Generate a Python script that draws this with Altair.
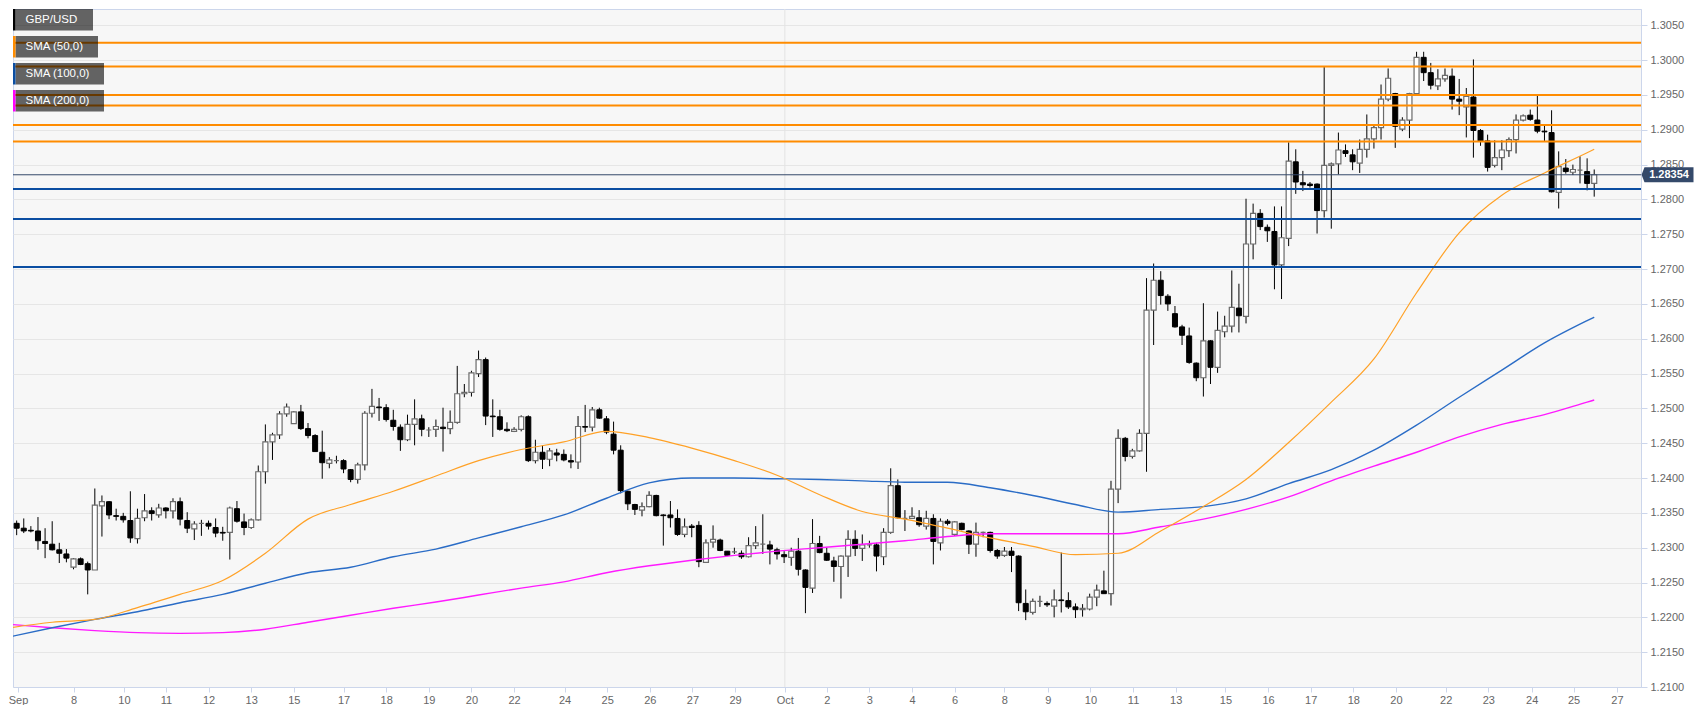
import altair as alt
import pandas as pd

# ---------------- data ----------------
opens = [
    1.2338, 1.2335, 1.2328, 1.2325, 1.2324, 1.2309, 1.2305, 1.2297, 1.2291, 1.2272,
    1.2284, 1.2277, 1.2268, 1.2360, 1.2366, 1.2346, 1.2345, 1.2339, 1.2313, 1.2343,
    1.2353, 1.2347, 1.2357, 1.2353, 1.2366, 1.2339, 1.2327, 1.2335, 1.2335, 1.2329,
    1.2322, 1.2322, 1.2356, 1.2337, 1.2329, 1.2340, 1.2409, 1.2452, 1.2462, 1.2492,
    1.2478, 1.2495, 1.2471, 1.2461, 1.2437, 1.2421, 1.2425, 1.2425, 1.2412, 1.2398,
    1.2419, 1.2493, 1.2502, 1.2501, 1.2483, 1.2473, 1.2455, 1.2477, 1.2485, 1.2469,
    1.2470, 1.2473, 1.2471, 1.2480, 1.2521, 1.2523, 1.2550, 1.2570, 1.2489, 1.2488,
    1.2470, 1.2467, 1.2470, 1.2488, 1.2425, 1.2437, 1.2427, 1.2436, 1.2434, 1.2425,
    1.2423, 1.2474, 1.2473, 1.2498, 1.2485, 1.2463, 1.2440, 1.2381, 1.2362, 1.2354,
    1.2359, 1.2375, 1.2347, 1.2347, 1.2342, 1.2319, 1.2331, 1.2332, 1.2279, 1.2308,
    1.2311, 1.2295, 1.2294, 1.2292, 1.2287, 1.2303, 1.2305, 1.2304, 1.2297, 1.2290,
    1.2286, 1.2295, 1.2268, 1.2242, 1.2306, 1.2292, 1.2281, 1.2273, 1.2288, 1.2312,
    1.2299, 1.2304, 1.2304, 1.2287, 1.2322, 1.2389, 1.2342, 1.2342, 1.2343, 1.2331,
    1.2342, 1.2307, 1.2338, 1.2319, 1.2335, 1.2324, 1.2305, 1.2322, 1.2322, 1.2296,
    1.2289, 1.2295, 1.2288, 1.2220, 1.2207, 1.2223, 1.2220, 1.2216, 1.2225, 1.2224,
    1.2215, 1.2211, 1.2212, 1.2229, 1.2238, 1.2234, 1.2384, 1.2457, 1.2431, 1.2439,
    1.2464, 1.2641, 1.2684, 1.2661, 1.2636, 1.2617, 1.2604, 1.2565, 1.2544, 1.2597,
    1.2559, 1.2610, 1.2618, 1.2644, 1.2632, 1.2736, 1.2780, 1.2760, 1.2754, 1.2706,
    1.2744, 1.2854, 1.2824, 1.2822, 1.2822, 1.2784, 1.2849, 1.2851, 1.2870, 1.2864,
    1.2852, 1.2872, 1.2887, 1.2903, 1.2944, 1.2952, 1.2901, 1.2914, 1.2952, 1.3004,
    1.2982, 1.2963, 1.2973, 1.2977, 1.2944, 1.2933, 1.2947, 1.2899, 1.2884, 1.2849,
    1.2860, 1.2870, 1.2886, 1.2914, 1.2921, 1.2914, 1.2898, 1.2896, 1.2810, 1.2845,
    1.2839, 1.2842, 1.2840, 1.2823,
]
highs = [
    1.2350, 1.2339, 1.2342, 1.2331, 1.2344, 1.2328, 1.2338, 1.2307, 1.2298, 1.2285,
    1.2286, 1.2280, 1.2385, 1.2375, 1.2367, 1.2356, 1.2350, 1.2381, 1.2356, 1.2377,
    1.2358, 1.2363, 1.2358, 1.2371, 1.2372, 1.2351, 1.2338, 1.2340, 1.2339, 1.2342,
    1.2330, 1.2359, 1.2367, 1.2349, 1.2342, 1.2418, 1.2477, 1.2465, 1.2496, 1.2507,
    1.2496, 1.2505, 1.2479, 1.2463, 1.2468, 1.2430, 1.2432, 1.2427, 1.2413, 1.2422,
    1.2496, 1.2528, 1.2515, 1.2506, 1.2498, 1.2477, 1.2491, 1.2513, 1.2491, 1.2473,
    1.2484, 1.2501, 1.2497, 1.2561, 1.2535, 1.2554, 1.2583, 1.2573, 1.2513, 1.2498,
    1.2480, 1.2473, 1.2490, 1.2490, 1.2455, 1.2447, 1.2443, 1.2442, 1.2441, 1.2434,
    1.2489, 1.2505, 1.2502, 1.2501, 1.2489, 1.2481, 1.2447, 1.2382, 1.2363, 1.2365,
    1.2381, 1.2376, 1.2348, 1.2367, 1.2355, 1.2342, 1.2334, 1.2338, 1.2312, 1.2332,
    1.2313, 1.2295, 1.2300, 1.2296, 1.2315, 1.2331, 1.2348, 1.2310, 1.2300, 1.2295,
    1.2300, 1.2314, 1.2269, 1.2341, 1.2317, 1.2300, 1.2287, 1.2289, 1.2325, 1.2325,
    1.2319, 1.2310, 1.2307, 1.2328, 1.2414, 1.2398, 1.2354, 1.2358, 1.2354, 1.2353,
    1.2348, 1.2342, 1.2341, 1.2338, 1.2336, 1.2325, 1.2336, 1.2323, 1.2323, 1.2298,
    1.2301, 1.2301, 1.2289, 1.2240, 1.2227, 1.2231, 1.2223, 1.2240, 1.2293, 1.2236,
    1.2220, 1.2219, 1.2234, 1.2247, 1.2267, 1.2396, 1.2470, 1.2459, 1.2442, 1.2470,
    1.2687, 1.2708, 1.2697, 1.2664, 1.2647, 1.2620, 1.2616, 1.2566, 1.2651, 1.2598,
    1.2639, 1.2633, 1.2698, 1.2679, 1.2801, 1.2794, 1.2786, 1.2764, 1.2790, 1.2790,
    1.2882, 1.2872, 1.2841, 1.2825, 1.2823, 1.2990, 1.2853, 1.2896, 1.2879, 1.2872,
    1.2886, 1.2922, 1.2908, 1.2965, 1.2988, 1.2953, 1.2918, 1.2953, 1.3012, 1.3012,
    1.2996, 1.2987, 1.2988, 1.2988, 1.2973, 1.2960, 1.3001, 1.2901, 1.2893, 1.2885,
    1.2885, 1.2889, 1.2922, 1.2922, 1.2929, 1.2949, 1.2906, 1.2928, 1.2869, 1.2858,
    1.2850, 1.2862, 1.2859, 1.2843,
]
lows = [
    1.2315, 1.2318, 1.2321, 1.2322, 1.2297, 1.2285, 1.2296, 1.2278, 1.2279, 1.2269,
    1.2275, 1.2233, 1.2268, 1.2316, 1.2341, 1.2339, 1.2336, 1.2307, 1.2306, 1.2338,
    1.2339, 1.2343, 1.2342, 1.2342, 1.2332, 1.2321, 1.2311, 1.2317, 1.2326, 1.2315,
    1.2310, 1.2283, 1.2336, 1.2318, 1.2327, 1.2339, 1.2392, 1.2426, 1.2456, 1.2488,
    1.2478, 1.2469, 1.2457, 1.2438, 1.2399, 1.2414, 1.2421, 1.2407, 1.2394, 1.2392,
    1.2411, 1.2487, 1.2482, 1.2481, 1.2468, 1.2439, 1.2453, 1.2447, 1.2460, 1.2459,
    1.2459, 1.2438, 1.2463, 1.2478, 1.2516, 1.2517, 1.2545, 1.2476, 1.2459, 1.2468,
    1.2466, 1.2466, 1.2467, 1.2423, 1.2421, 1.2413, 1.2417, 1.2424, 1.2424, 1.2414,
    1.2413, 1.2466, 1.2467, 1.2485, 1.2463, 1.2434, 1.2378, 1.2354, 1.2347, 1.2345,
    1.2358, 1.2345, 1.2303, 1.2329, 1.2317, 1.2315, 1.2315, 1.2272, 1.2278, 1.2300,
    1.2295, 1.2288, 1.2291, 1.2284, 1.2286, 1.2298, 1.2291, 1.2276, 1.2283, 1.2278,
    1.2274, 1.2260, 1.2206, 1.2235, 1.2292, 1.2281, 1.2251, 1.2227, 1.2258, 1.2288,
    1.2281, 1.2300, 1.2266, 1.2275, 1.2320, 1.2342, 1.2324, 1.2342, 1.2330, 1.2326,
    1.2276, 1.2296, 1.2332, 1.2317, 1.2325, 1.2291, 1.2287, 1.2315, 1.2293, 1.2284,
    1.2287, 1.2265, 1.2209, 1.2196, 1.2204, 1.2215, 1.2215, 1.2200, 1.2207, 1.2212,
    1.2199, 1.2201, 1.2210, 1.2216, 1.2234, 1.2217, 1.2364, 1.2424, 1.2428, 1.2438,
    1.2409, 1.2591, 1.2649, 1.2640, 1.2616, 1.2591, 1.2564, 1.2539, 1.2517, 1.2535,
    1.2551, 1.2602, 1.2609, 1.2609, 1.2622, 1.2714, 1.2756, 1.2739, 1.2671, 1.2657,
    1.2733, 1.2808, 1.2812, 1.2817, 1.2751, 1.2774, 1.2758, 1.2836, 1.2861, 1.2842,
    1.2838, 1.2860, 1.2873, 1.2886, 1.2941, 1.2874, 1.2898, 1.2888, 1.2949, 1.2970,
    1.2958, 1.2957, 1.2969, 1.2929, 1.2921, 1.2889, 1.2860, 1.2877, 1.2840, 1.2846,
    1.2842, 1.2861, 1.2866, 1.2912, 1.2913, 1.2895, 1.2884, 1.2810, 1.2787, 1.2837,
    1.2835, 1.2823, 1.2813, 1.2804,
]
closes = [
    1.2337, 1.2328, 1.2324, 1.2324, 1.2310, 1.2306, 1.2297, 1.2292, 1.2285, 1.2284,
    1.2276, 1.2268, 1.2361, 1.2366, 1.2347, 1.2345, 1.2340, 1.2314, 1.2342, 1.2353,
    1.2349, 1.2357, 1.2353, 1.2366, 1.2341, 1.2328, 1.2334, 1.2335, 1.2331, 1.2321,
    1.2321, 1.2357, 1.2338, 1.2329, 1.2340, 1.2409, 1.2452, 1.2462, 1.2492, 1.2502,
    1.2495, 1.2471, 1.2461, 1.2438, 1.2422, 1.2426, 1.2425, 1.2413, 1.2398, 1.2419,
    1.2493, 1.2503, 1.2501, 1.2484, 1.2474, 1.2455, 1.2477, 1.2485, 1.2470, 1.2469,
    1.2474, 1.2471, 1.2480, 1.2521, 1.2523, 1.2551, 1.2570, 1.2489, 1.2488, 1.2470,
    1.2468, 1.2470, 1.2488, 1.2425, 1.2437, 1.2427, 1.2439, 1.2433, 1.2426, 1.2423,
    1.2474, 1.2473, 1.2498, 1.2486, 1.2466, 1.2440, 1.2382, 1.2363, 1.2355, 1.2359,
    1.2375, 1.2346, 1.2346, 1.2343, 1.2319, 1.2330, 1.2329, 1.2280, 1.2307, 1.2312,
    1.2296, 1.2289, 1.2294, 1.2287, 1.2303, 1.2307, 1.2305, 1.2298, 1.2291, 1.2287,
    1.2295, 1.2269, 1.2243, 1.2306, 1.2293, 1.2282, 1.2273, 1.2288, 1.2312, 1.2299,
    1.2304, 1.2304, 1.2288, 1.2322, 1.2389, 1.2343, 1.2342, 1.2345, 1.2333, 1.2342,
    1.2309, 1.2338, 1.2335, 1.2337, 1.2326, 1.2305, 1.2322, 1.2322, 1.2296, 1.2288,
    1.2295, 1.2289, 1.2221, 1.2208, 1.2223, 1.2223, 1.2218, 1.2225, 1.2224, 1.2215,
    1.2211, 1.2213, 1.2229, 1.2239, 1.2234, 1.2384, 1.2457, 1.2431, 1.2439, 1.2464,
    1.2641, 1.2684, 1.2662, 1.2650, 1.2617, 1.2605, 1.2566, 1.2544, 1.2597, 1.2559,
    1.2612, 1.2618, 1.2645, 1.2633, 1.2736, 1.2780, 1.2761, 1.2755, 1.2706, 1.2745,
    1.2855, 1.2825, 1.2821, 1.2820, 1.2784, 1.2849, 1.2851, 1.2871, 1.2866, 1.2854,
    1.2872, 1.2887, 1.2903, 1.2944, 1.2974, 1.2905, 1.2914, 1.2952, 1.3004, 1.2982,
    1.2964, 1.2973, 1.2978, 1.2944, 1.2941, 1.2948, 1.2899, 1.2884, 1.2846, 1.2860,
    1.2871, 1.2886, 1.2914, 1.2920, 1.2915, 1.2898, 1.2897, 1.2811, 1.2847, 1.2840,
    1.2843, 1.2842, 1.2823, 1.28354,
]

# x-axis tick positions (bar index) and their labels
tick_pos = [0.2, 9.0, 16.1, 22.0, 28.0, 34.0, 40.0, 47.0, 53.0, 59.0, 65.0, 71.0,
            78.1, 84.1, 90.1, 96.1, 102.1, 109.1, 115.0, 121.0, 127.0, 133.0, 140.0,
            146.1, 152.1, 158.1, 164.1, 171.1, 177.1, 183.1, 189.1, 195.1, 202.1,
            208.1, 214.2, 220.1, 226.2]
tick_labels = ["Sep", "8", "10", "11", "12", "13", "15", "17", "18", "19", "20", "22",
               "24", "25", "26", "27", "29", "Oct", "2", "3", "4", "6", "8", "9", "10",
               "11", "13", "15", "16", "17", "18", "20", "22", "23", "24", "25", "27"]
month_sep = [109.1]

# moving averages read at every 6th bar
sma_idx = [0, 6, 12, 18, 24, 30, 36, 42, 48, 54, 60, 66, 72, 78, 84, 90, 96, 102, 108,
           114, 120, 126, 132, 138, 144, 150, 156, 162, 168, 174, 180, 186, 192, 198,
           204, 210, 216, 222, 223]
sma50 = [1.2185, 1.2193, 1.2197, 1.2214, 1.2233, 1.2253, 1.2292, 1.2341, 1.2362, 1.2381,
         1.2403, 1.2425, 1.2441, 1.2452, 1.2467, 1.2458, 1.2443, 1.2425, 1.2404, 1.2376,
         1.2352, 1.2341, 1.2328, 1.2314, 1.2302, 1.2290, 1.2292, 1.2324, 1.2359, 1.2398,
         1.2451, 1.2509, 1.2571, 1.2666, 1.2752, 1.2806, 1.2838, 1.2867, 1.2872]
sma100 = [1.2172, 1.2185, 1.2197, 1.2208, 1.2221, 1.2233, 1.2249, 1.2264, 1.2272, 1.2287,
          1.2298, 1.2314, 1.2330, 1.2347, 1.2371, 1.2393, 1.2400, 1.2400, 1.2399, 1.2398,
          1.2396, 1.2394, 1.2394, 1.2386, 1.2375, 1.2362, 1.2351, 1.2355, 1.2359, 1.2370,
          1.2392, 1.2412, 1.2440, 1.2476, 1.2516, 1.2555, 1.2594, 1.2626, 1.2631]
sma200 = [1.2190, 1.2185, 1.2181, 1.2178, 1.2177, 1.2178, 1.2183, 1.2193, 1.2203, 1.2213,
          1.2222, 1.2232, 1.2242, 1.2251, 1.2264, 1.2274, 1.2282, 1.2289, 1.2295, 1.2300,
          1.2305, 1.2310, 1.2316, 1.2320, 1.2320, 1.2320, 1.2320, 1.2330, 1.2341, 1.2355,
          1.2373, 1.2396, 1.2417, 1.2437, 1.2459, 1.2477, 1.2491, 1.2509, 1.2512]

resistance_levels = [1.3025, 1.2991, 1.2950, 1.2935, 1.2907, 1.2883]
support_levels = [1.2815, 1.2772, 1.2703]
last_price = [1.28354]
legend_items = ["GBP/USD", "SMA (50,0)", "SMA (100,0)", "SMA (200,0)"]
legend_colors = ["#000000", "#ff8c00", "#0b4ea2", "#ff00ff"]

# ---------------- chart ----------------
W, H = 1628, 678
X0, X1 = 1.189, 228.88
Y0, Y1 = 1.21, 1.30734
FONT = "Liberation Sans"
AXIS_COL = "#ccd6eb"
LAB_COL = "#666666"

df = pd.DataFrame({"i": list(range(len(opens))), "open": opens, "high": highs,
                   "low": lows, "close": closes})

xs = alt.Scale(domain=[X0, X1], nice=False, zero=False)
ys = alt.Scale(domain=[Y0, Y1], nice=False, zero=False)

tick_vals = [max(p, X0) for p in tick_pos]
label_expr = ("[" + ",".join("'%s'" % t for t in tick_labels) + "][indexof(["
              + ",".join(repr(v) for v in tick_vals) + "], datum.value)]")
xax = alt.Axis(values=tick_vals, labelExpr=label_expr, title=None, grid=False,
               tickSize=5, tickColor=AXIS_COL, domainColor=AXIS_COL,
               labelColor=LAB_COL, labelFontSize=11, labelFont=FONT,
               labelFlush=True, labelOverlap=False, labelPadding=2)
yvals = [round(1.21 + 0.005 * k, 4) for k in range(20)]
yax = alt.Axis(orient="right", values=yvals, format=".4f", title=None, grid=True,
               gridColor="#e6e6e6", tickSize=6, tickColor=AXIS_COL,
               domainColor=AXIS_COL, labelColor=LAB_COL, labelFontSize=11,
               labelFont=FONT, labelPadding=3, labelOverlap=False)

X = lambda f: alt.X(f, scale=xs, axis=xax)
Y = lambda f: alt.Y(f, scale=ys, axis=yax)

month_rule = alt.Chart(pd.DataFrame({"m": month_sep})).mark_rule(
    color="#e3e3e3", strokeWidth=1).encode(x=X("m:Q"))

wicks = alt.Chart(df).mark_rule(color="#000000", strokeWidth=1, clip=True).encode(
    x=X("i:Q"), y=Y("low:Q"), y2="high:Q")

bull = alt.Chart(df).transform_filter("datum.close >= datum.open").mark_bar(
    size=5, fill="#ffffff", stroke="#6b6b6b", strokeWidth=1.2, clip=True).encode(
    x=X("i:Q"), y=Y("open:Q"), y2="close:Q")
bear = alt.Chart(df).transform_filter("datum.close < datum.open").mark_bar(
    size=5, fill="#000000", stroke="#000000", strokeWidth=1, clip=True).encode(
    x=X("i:Q"), y=Y("open:Q"), y2="close:Q")

sma_df = pd.DataFrame({"i": sma_idx, "s50": sma50, "s100": sma100, "s200": sma200})
l50 = alt.Chart(sma_df).mark_line(color="#ffa126", strokeWidth=1.2, clip=True,
                                  interpolate="monotone").encode(x=X("i:Q"), y=Y("s50:Q"))
l100 = alt.Chart(sma_df).mark_line(color="#2a6cc6", strokeWidth=1.4, clip=True,
                                   interpolate="monotone").encode(x=X("i:Q"), y=Y("s100:Q"))
l200 = alt.Chart(sma_df).mark_line(color="#ff1aff", strokeWidth=1.4, clip=True,
                                   interpolate="monotone").encode(x=X("i:Q"), y=Y("s200:Q"))

res = alt.Chart(pd.DataFrame({"y": resistance_levels})).mark_rule(
    color="#ff8c00", strokeWidth=2).encode(y=Y("y:Q"))
sup = alt.Chart(pd.DataFrame({"y": support_levels})).mark_rule(
    color="#0b4ea2", strokeWidth=2).encode(y=Y("y:Q"))

lp = pd.DataFrame({"p": last_price, "t": ["%.5f" % v for v in last_price]})
price_line = alt.Chart(lp).mark_rule(color="#34496a", strokeWidth=1).encode(y=Y("p:Q"))
tag_shape = "M -1.12 0 L -1 -0.31 L 1 -0.31 L 1 0.31 L -1 0.31 Z"
price_tag = alt.Chart(lp).mark_point(shape=tag_shape, size=2401, filled=True,
                                     fill="#34496a", opacity=1, strokeWidth=0,
                                     clip=False).encode(
    x=alt.value(1656), y=Y("p:Q"))
price_txt = alt.Chart(lp).mark_text(color="#ffffff", fontWeight="bold", fontSize=11,
                                    font=FONT, align="center", baseline="middle",
                                    clip=False).encode(
    x=alt.value(1656), y=Y("p:Q"), text="t:N")

# legend boxes (top-left)
legend_layers = []
box_tops = [0, 27, 54, 81]
box_rights = [80, 85, 91, 91]
for k, name in enumerate(legend_items):
    top = box_tops[k]
    d = pd.DataFrame({"name": [name]})
    legend_layers.append(alt.Chart(d).mark_rect(fill="#000000", fillOpacity=0.6).encode(
        x=alt.value(2.5), x2=alt.value(box_rights[k]), y=alt.value(top),
        y2=alt.value(top + 21.5)))
    legend_layers.append(alt.Chart(d).mark_rect(fill=legend_colors[k]).encode(
        x=alt.value(0), x2=alt.value(2.5), y=alt.value(top), y2=alt.value(top + 21.5)))
    legend_layers.append(alt.Chart(d).mark_text(color="#ffffff", fontSize=11.5, font=FONT,
                                                align="left", baseline="middle").encode(
        x=alt.value(12.5), y=alt.value(top + 11), text="name:N"))

chart = alt.layer(
    month_rule, wicks, bull, bear, l200, l100, l50, res, sup, price_line,
    price_tag, price_txt, *legend_layers
).properties(width=W, height=H, padding=0, background="#ffffff").configure_view(
    fill="#f7f7f7", stroke=AXIS_COL, strokeWidth=1
)

chart.save("out.html", embed_options={"renderer": "svg", "actions": False})
